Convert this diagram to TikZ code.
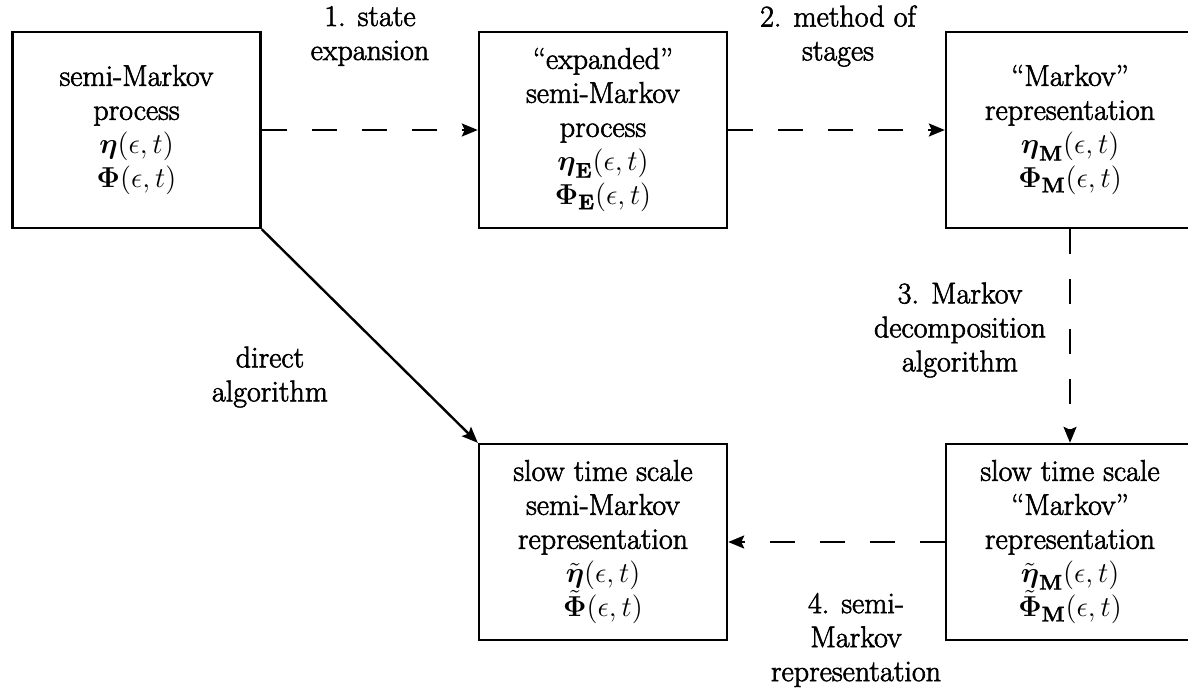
\documentclass[tikz,border=0pt]{standalone}
\usepackage{amsmath}
\usepackage{fontspec}
\setmainfont{Latin Modern Roman}[FakeBold=2]
\usetikzlibrary{arrows.meta}
\begin{document}
\begin{tikzpicture}[x=0.5pt,y=-0.5pt,
  every node/.style={font=\fontsize{15}{17}\selectfont, align=center, inner sep=0pt},
  procbox/.style={draw, line width=1.2pt, minimum width=124pt, minimum height=98pt},
  tip/.style={-{Stealth[length=8pt,width=6.5pt,inset=1.5pt]}},
  stepline/.style={line width=1.2pt, dash pattern=on 12.5pt off 12.5pt, tip},
  directline/.style={line width=1.2pt, tip},
  steplabel/.style={}]
\useasboundingbox (0,0) rectangle (1188,696);
\clip (0,0) rectangle (1188,696);

% process representations
\node[procbox] (smp) at (136.5,130) {semi-Markov\\ process\\ $\boldsymbol{\eta}(\epsilon,t)$\\ $\boldsymbol{\Phi}(\epsilon,t)$};
\node[procbox] (exp) at (603,130) {“expanded”\\ semi-Markov\\ process\\ $\boldsymbol{\eta}_{\mathbf{E}}(\epsilon,t)$\\ $\boldsymbol{\Phi}_{\mathbf{E}}(\epsilon,t)$};
\node[procbox] (mar) at (1070,130) {“Markov”\\ representation\\ $\boldsymbol{\eta}_{\mathbf{M}}(\epsilon,t)$\\ $\boldsymbol{\Phi}_{\mathbf{M}}(\epsilon,t)$};
\node[procbox] (slowsm) at (603,542) {slow time scale\\ semi-Markov\\ representation\\ $\tilde{\boldsymbol{\eta}}(\epsilon,t)$\\ $\tilde{\boldsymbol{\Phi}}(\epsilon,t)$};
\node[procbox] (slowm) at (1070,542) {slow time scale\\ “Markov”\\ representation\\ $\tilde{\boldsymbol{\eta}}_{\mathbf{M}}(\epsilon,t)$\\ $\tilde{\boldsymbol{\Phi}}_{\mathbf{M}}(\epsilon,t)$};

% transformation steps
\draw[stepline] (smp.east) -- (exp.west);
\draw[stepline] (exp.east) -- (mar.west);
\draw[stepline] (mar.south) -- (slowm.north);
\draw[stepline] (slowm.west) -- (slowsm.east);
\draw[directline] (smp.south east) -- (slowsm.north west);

% step labels
\node[steplabel] (l1) at (370,36) {1. state\\ expansion};
\node[steplabel] (l2) at (838,36) {2. method of\\ stages};
\node[steplabel] (l3) at (960,330) {3. Markov\\ decomposition\\ algorithm};
\node[steplabel] (l4) at (856,640) {4. semi-\\ Markov\\ representation};
\node[steplabel] (ld) at (270,377) {direct\\ algorithm};
\end{tikzpicture}
\end{document}
